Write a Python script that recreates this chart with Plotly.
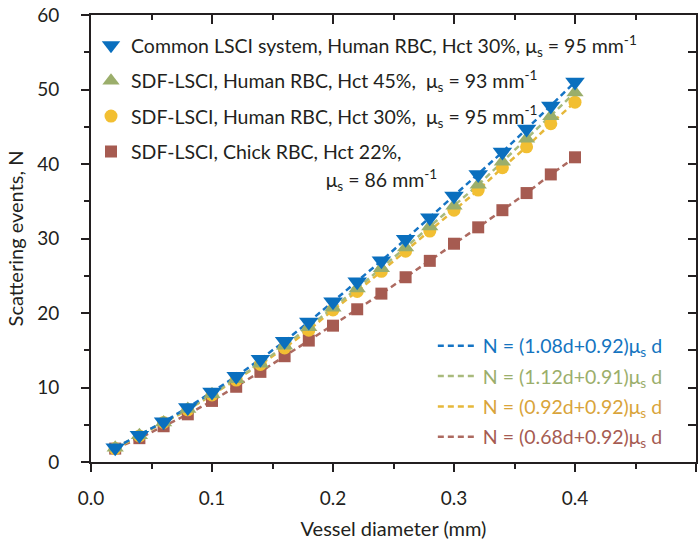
import plotly.graph_objects as go

# ---------------- data ----------------
diameter = [0.02, 0.04, 0.06, 0.08, 0.10, 0.12, 0.14, 0.16, 0.18, 0.20,
            0.22, 0.24, 0.26, 0.28, 0.30, 0.32, 0.34, 0.36, 0.38, 0.40]

common_lsci_30 = [1.9, 3.6, 5.4, 7.3, 9.4, 11.5, 13.8, 16.2, 18.8, 21.5,
                  24.2, 27.0, 29.9, 32.8, 35.7, 38.6, 41.6, 44.7, 47.8, 51.0]
sdf_human_45 = [1.9, 3.6, 5.3, 7.1, 9.1, 11.1, 13.2, 15.6, 18.1, 20.7,
                23.3, 26.0, 28.8, 31.6, 34.4, 37.2, 40.3, 43.4, 46.4, 49.6]
sdf_human_30 = [1.8, 3.5, 5.3, 7.0, 9.0, 11.0, 13.1, 15.3, 17.7, 20.4,
                22.9, 25.6, 28.3, 31.0, 33.8, 36.5, 39.5, 42.3, 45.4, 48.3]
sdf_chick_22 = [1.8, 3.2, 4.8, 6.4, 8.2, 10.1, 12.1, 14.2, 16.3, 18.3,
                20.5, 22.6, 24.8, 27.0, 29.3, 31.5, 33.8, 36.1, 38.6, 40.9]

NB = "&nbsp;"
series_names = [
    "Common LSCI system, Human RBC, Hct 30%, μ<sub>s</sub> = 95 mm<sup>-1</sup>",
    "SDF-LSCI, Human RBC, Hct 45%,  μ<sub>s</sub> = 93 mm<sup>-1</sup>",
    "SDF-LSCI, Human RBC, Hct 30%,  μ<sub>s</sub> = 95 mm<sup>-1</sup>",
    "SDF-LSCI, Chick RBC, Hct 22%,",
]
chick_line2 = NB * 39 + "μ<sub>s</sub> = 86 mm<sup>-1</sup>"
fit_names = [
    "N = (1.08d+0.92)μ<sub>s</sub> d",
    "N = (1.12d+0.91)μ<sub>s</sub> d",
    "N = (0.92d+0.92)μ<sub>s</sub> d",
    "N = (0.68d+0.92)μ<sub>s</sub> d",
]
series_values = [common_lsci_30, sdf_human_45, sdf_human_30, sdf_chick_22]
marker_colors = ["#0A6FBE", "#9BAE6B", "#F2BF32", "#A65B51"]
line_colors = ["#1574C4", "#A9BA7C", "#E6B83A", "#AD6A60"]
text_colors = ["#1474C0", "#9BAE6B", "#D9A43A", "#A65B51"]
symbols = ["triangle-down", "triangle-up", "circle", "square"]
sizes = [17, 15, 13, 12]

FONT = "Lato"
fig = go.Figure()

# draw order: red (bottom) ... blue (top)
for i in [3, 2, 1, 0]:
    fig.add_trace(go.Scatter(
        x=diameter, y=series_values[i], mode="lines",
        line=dict(color=line_colors[i], width=2.5, dash="6px,4px"),
        name="<span style='color:%s'>%s</span>" % (text_colors[i], fit_names[i]),
        legend="legend2", legendrank=i + 1, legendgroup="f%d" % i,
    ))
for i in [3, 2, 1, 0]:
    fig.add_trace(go.Scatter(
        x=diameter, y=series_values[i], mode="markers",
        marker=dict(symbol=symbols[i], size=sizes[i], color=marker_colors[i],
                    line=dict(width=0)),
        name=series_names[i], legend="legend", legendrank=i + 1,
        legendgroup="m%d" % i,
    ))
# second line of the chick RBC legend entry
fig.add_trace(go.Scatter(
    x=[None], y=[None], mode="markers",
    marker=dict(symbol="square", size=1, color="rgba(0,0,0,0)"),
    name=chick_line2, legend="legend", legendrank=5, legendgroup="m3",
    hoverinfo="skip",
))

# dummy trace for mirrored (top/right) axes with inside ticks
fig.add_trace(go.Scatter(x=[None], y=[None], xaxis="x2", yaxis="y2",
                         showlegend=False, hoverinfo="skip"))

axis_color = "#231F20"
fig.update_layout(
    width=699, height=540,
    margin=dict(l=91, r=3, t=14, b=76),
    paper_bgcolor="white", plot_bgcolor="white",
    font=dict(family=FONT, size=19, color=axis_color),
    xaxis=dict(
        range=[0, 0.5], dtick=0.1, tick0=0, tickformat=".1f",
        showgrid=False, zeroline=False,
        showline=True, linecolor=axis_color, linewidth=2,
        ticks="outside", ticklen=8, tickwidth=2, tickcolor=axis_color,
        minor=dict(dtick=0.05, ticks="outside", ticklen=5, tickwidth=1.5, tickcolor=axis_color),
        ticklabelstandoff=10,
        title=dict(text="Vessel diameter (mm)", standoff=14, font=dict(size=20)),
        tickfont=dict(size=19),
    ),
    yaxis=dict(
        range=[0, 60], dtick=10, tick0=0,
        showgrid=False, zeroline=False,
        showline=True, linecolor=axis_color, linewidth=2,
        ticks="outside", ticklen=8, tickwidth=2, tickcolor=axis_color,
        minor=dict(dtick=5, ticks="outside", ticklen=5, tickwidth=1.5, tickcolor=axis_color),
        ticklabelstandoff=18,
        title=dict(text="Scattering events, N", standoff=8, font=dict(size=20)),
        tickfont=dict(size=19),
    ),
    xaxis2=dict(
        range=[0, 0.5], dtick=0.1, overlaying="x", side="top", anchor="y2",
        showgrid=False, zeroline=False, showticklabels=False,
        showline=True, linecolor=axis_color, linewidth=2,
        ticks="inside", ticklen=9, tickwidth=2, tickcolor=axis_color,
        minor=dict(dtick=0.05, ticks="inside", ticklen=5, tickwidth=1.5, tickcolor=axis_color),
    ),
    yaxis2=dict(
        range=[0, 60], dtick=10, overlaying="y", side="right", anchor="x2",
        showgrid=False, zeroline=False, showticklabels=False,
        showline=True, linecolor=axis_color, linewidth=2,
        ticks="inside", ticklen=8, tickwidth=2, tickcolor=axis_color,
        minor=dict(dtick=5, ticks="inside", ticklen=8, tickwidth=1.5, tickcolor=axis_color),
    ),
    legend=dict(
        x=0.0, y=0.975, xanchor="left", yanchor="top",
        bgcolor="rgba(0,0,0,0)", borderwidth=0,
        font=dict(family=FONT, size=19.5, color="#231F20"),
        itemsizing="trace", tracegroupgap=7, groupclick="toggleitem",
    ),
    legend2=dict(
        x=0.565, y=0.303, xanchor="left", yanchor="top",
        bgcolor="rgba(0,0,0,0)", borderwidth=0,
        font=dict(family=FONT, size=19.5),
        itemwidth=40, tracegroupgap=2,
    ),
)

fig.write_html("out.html")
